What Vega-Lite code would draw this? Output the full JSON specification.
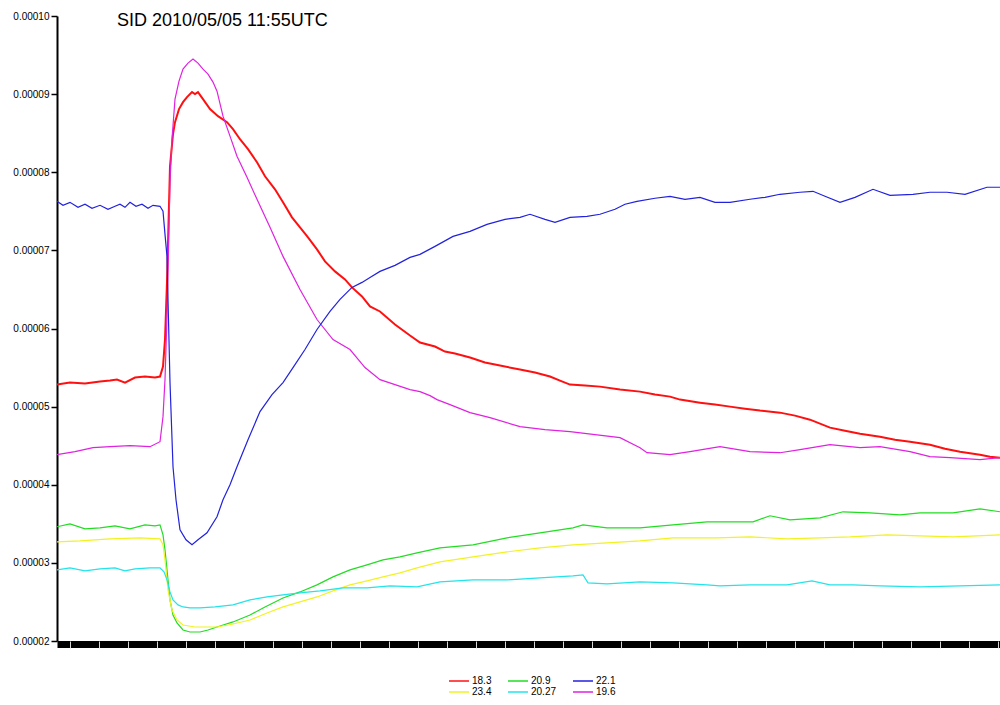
{
  "$schema": "https://vega.github.io/schema/vega-lite/v6.json",
  "autosize": {"type": "none"},
  "padding": {"left": 57, "top": 16, "right": 0, "bottom": 64},
  "width": 943,
  "height": 625,
  "background": "white",
  "title": {"text": "SID 2010/05/05 11:55UTC", "anchor": "start", "frame": "group", "dx": 60, "offset": -19, "font": "Liberation Sans", "fontSize": 18, "fontWeight": "normal", "color": "black"},
  "config": {"view": {"stroke": null}},
  "data": {"values": [
    {"s":"18.3","t":0,"v":0.00005282},{"s":"18.3","t":13,"v":0.00005308},{"s":"18.3","t":28,"v":0.00005295},{"s":"18.3","t":43,"v":0.00005321},{"s":"18.3","t":53,"v":0.00005333},{"s":"18.3","t":60,"v":0.00005346},{"s":"18.3","t":68,"v":0.00005308},{"s":"18.3","t":78,"v":0.00005372},{"s":"18.3","t":88,"v":0.00005385},{"s":"18.3","t":98,"v":0.00005372},{"s":"18.3","t":103,"v":0.00005385},{"s":"18.3","t":106,"v":0.00005513},{"s":"18.3","t":108,"v":0.00005859},{"s":"18.3","t":110,"v":0.0000659},{"s":"18.3","t":113,"v":0.00008077},{"s":"18.3","t":116,"v":0.00008487},{"s":"18.3","t":118,"v":0.00008641},{"s":"18.3","t":122,"v":0.00008808},{"s":"18.3","t":126,"v":0.00008897},{"s":"18.3","t":130,"v":0.00008962},{"s":"18.3","t":135,"v":0.00009026},{"s":"18.3","t":138,"v":0.00009},{"s":"18.3","t":141,"v":0.00009026},{"s":"18.3","t":146,"v":0.00008936},{"s":"18.3","t":153,"v":0.00008808},{"s":"18.3","t":161,"v":0.00008718},{"s":"18.3","t":170,"v":0.00008641},{"s":"18.3","t":176,"v":0.00008551},{"s":"18.3","t":183,"v":0.00008423},{"s":"18.3","t":191,"v":0.00008295},{"s":"18.3","t":200,"v":0.00008128},{"s":"18.3","t":208,"v":0.00007949},{"s":"18.3","t":218,"v":0.00007782},{"s":"18.3","t":226,"v":0.00007615},{"s":"18.3","t":235,"v":0.00007423},{"s":"18.3","t":243,"v":0.00007295},{"s":"18.3","t":251,"v":0.00007167},{"s":"18.3","t":260,"v":0.00007013},{"s":"18.3","t":268,"v":0.00006859},{"s":"18.3","t":278,"v":0.00006731},{"s":"18.3","t":288,"v":0.00006628},{"s":"18.3","t":295,"v":0.00006526},{"s":"18.3","t":305,"v":0.0000641},{"s":"18.3","t":313,"v":0.00006282},{"s":"18.3","t":323,"v":0.00006218},{"s":"18.3","t":338,"v":0.00006051},{"s":"18.3","t":353,"v":0.0000591},{"s":"18.3","t":363,"v":0.00005821},{"s":"18.3","t":378,"v":0.00005769},{"s":"18.3","t":388,"v":0.00005705},{"s":"18.3","t":398,"v":0.00005679},{"s":"18.3","t":413,"v":0.00005628},{"s":"18.3","t":428,"v":0.00005564},{"s":"18.3","t":443,"v":0.00005526},{"s":"18.3","t":463,"v":0.00005474},{"s":"18.3","t":478,"v":0.00005436},{"s":"18.3","t":493,"v":0.00005385},{"s":"18.3","t":503,"v":0.00005333},{"s":"18.3","t":513,"v":0.00005282},{"s":"18.3","t":528,"v":0.00005269},{"s":"18.3","t":543,"v":0.00005256},{"s":"18.3","t":563,"v":0.00005218},{"s":"18.3","t":583,"v":0.00005192},{"s":"18.3","t":598,"v":0.00005154},{"s":"18.3","t":613,"v":0.00005128},{"s":"18.3","t":623,"v":0.0000509},{"s":"18.3","t":643,"v":0.00005051},{"s":"18.3","t":658,"v":0.00005026},{"s":"18.3","t":673,"v":0.00005},{"s":"18.3","t":688,"v":0.00004974},{"s":"18.3","t":703,"v":0.00004949},{"s":"18.3","t":723,"v":0.00004923},{"s":"18.3","t":738,"v":0.00004885},{"s":"18.3","t":753,"v":0.00004833},{"s":"18.3","t":773,"v":0.00004731},{"s":"18.3","t":788,"v":0.00004692},{"s":"18.3","t":803,"v":0.00004654},{"s":"18.3","t":823,"v":0.00004615},{"s":"18.3","t":838,"v":0.00004577},{"s":"18.3","t":853,"v":0.00004551},{"s":"18.3","t":873,"v":0.00004513},{"s":"18.3","t":888,"v":0.00004462},{"s":"18.3","t":903,"v":0.00004423},{"s":"18.3","t":923,"v":0.00004385},{"s":"18.3","t":933,"v":0.00004359},{"s":"18.3","t":943,"v":0.00004346},

    {"s":"19.6","t":0,"v":0.00004385},{"s":"19.6","t":18,"v":0.00004423},{"s":"19.6","t":36,"v":0.00004474},{"s":"19.6","t":53,"v":0.00004487},{"s":"19.6","t":73,"v":0.000045},{"s":"19.6","t":93,"v":0.00004487},{"s":"19.6","t":103,"v":0.00004551},{"s":"19.6","t":106,"v":0.00004872},{"s":"19.6","t":108,"v":0.00005346},{"s":"19.6","t":110,"v":0.00006154},{"s":"19.6","t":113,"v":0.00007872},{"s":"19.6","t":115,"v":0.00008423},{"s":"19.6","t":118,"v":0.00008936},{"s":"19.6","t":122,"v":0.00009167},{"s":"19.6","t":126,"v":0.00009321},{"s":"19.6","t":131,"v":0.00009397},{"s":"19.6","t":136,"v":0.00009449},{"s":"19.6","t":141,"v":0.00009397},{"s":"19.6","t":146,"v":0.00009321},{"s":"19.6","t":151,"v":0.00009256},{"s":"19.6","t":156,"v":0.00009154},{"s":"19.6","t":160,"v":0.00009038},{"s":"19.6","t":166,"v":0.00008718},{"s":"19.6","t":173,"v":0.00008462},{"s":"19.6","t":180,"v":0.00008205},{"s":"19.6","t":190,"v":0.00007936},{"s":"19.6","t":200,"v":0.00007654},{"s":"19.6","t":213,"v":0.00007295},{"s":"19.6","t":226,"v":0.00006923},{"s":"19.6","t":243,"v":0.000065},{"s":"19.6","t":260,"v":0.00006115},{"s":"19.6","t":276,"v":0.00005859},{"s":"19.6","t":293,"v":0.00005731},{"s":"19.6","t":308,"v":0.000055},{"s":"19.6","t":323,"v":0.00005346},{"s":"19.6","t":338,"v":0.00005282},{"s":"19.6","t":353,"v":0.00005218},{"s":"19.6","t":363,"v":0.00005192},{"s":"19.6","t":373,"v":0.00005141},{"s":"19.6","t":380,"v":0.0000509},{"s":"19.6","t":393,"v":0.00005026},{"s":"19.6","t":413,"v":0.00004923},{"s":"19.6","t":433,"v":0.00004859},{"s":"19.6","t":463,"v":0.00004744},{"s":"19.6","t":488,"v":0.00004705},{"s":"19.6","t":513,"v":0.00004679},{"s":"19.6","t":538,"v":0.00004641},{"s":"19.6","t":563,"v":0.00004603},{"s":"19.6","t":583,"v":0.00004474},{"s":"19.6","t":590,"v":0.0000441},{"s":"19.6","t":613,"v":0.00004385},{"s":"19.6","t":633,"v":0.00004423},{"s":"19.6","t":663,"v":0.00004487},{"s":"19.6","t":693,"v":0.00004423},{"s":"19.6","t":723,"v":0.0000441},{"s":"19.6","t":743,"v":0.00004449},{"s":"19.6","t":773,"v":0.00004513},{"s":"19.6","t":803,"v":0.00004474},{"s":"19.6","t":823,"v":0.00004487},{"s":"19.6","t":853,"v":0.00004423},{"s":"19.6","t":873,"v":0.00004359},{"s":"19.6","t":893,"v":0.00004346},{"s":"19.6","t":923,"v":0.00004321},{"s":"19.6","t":943,"v":0.00004346},

    {"s":"22.1","t":0,"v":0.00007628},{"s":"22.1","t":6,"v":0.00007577},{"s":"22.1","t":13,"v":0.00007615},{"s":"22.1","t":21,"v":0.00007551},{"s":"22.1","t":28,"v":0.0000759},{"s":"22.1","t":35,"v":0.00007538},{"s":"22.1","t":43,"v":0.00007577},{"s":"22.1","t":51,"v":0.00007526},{"s":"22.1","t":58,"v":0.00007564},{"s":"22.1","t":63,"v":0.0000759},{"s":"22.1","t":68,"v":0.00007551},{"s":"22.1","t":73,"v":0.00007615},{"s":"22.1","t":79,"v":0.00007564},{"s":"22.1","t":85,"v":0.0000759},{"s":"22.1","t":91,"v":0.00007538},{"s":"22.1","t":96,"v":0.00007577},{"s":"22.1","t":103,"v":0.00007564},{"s":"22.1","t":106,"v":0.000075},{"s":"22.1","t":108,"v":0.00007205},{"s":"22.1","t":110,"v":0.00006923},{"s":"22.1","t":111,"v":0.00006372},{"s":"22.1","t":113,"v":0.00005308},{"s":"22.1","t":116,"v":0.00004231},{"s":"22.1","t":119,"v":0.00003808},{"s":"22.1","t":123,"v":0.00003423},{"s":"22.1","t":129,"v":0.00003295},{"s":"22.1","t":135,"v":0.00003231},{"s":"22.1","t":141,"v":0.00003295},{"s":"22.1","t":150,"v":0.00003385},{"s":"22.1","t":160,"v":0.0000359},{"s":"22.1","t":166,"v":0.00003808},{"s":"22.1","t":173,"v":0.00004},{"s":"22.1","t":180,"v":0.00004231},{"s":"22.1","t":191,"v":0.00004577},{"s":"22.1","t":203,"v":0.00004936},{"s":"22.1","t":215,"v":0.00005154},{"s":"22.1","t":226,"v":0.00005308},{"s":"22.1","t":238,"v":0.00005538},{"s":"22.1","t":248,"v":0.00005731},{"s":"22.1","t":260,"v":0.00005987},{"s":"22.1","t":273,"v":0.00006218},{"s":"22.1","t":283,"v":0.00006372},{"s":"22.1","t":295,"v":0.00006526},{"s":"22.1","t":305,"v":0.0000659},{"s":"22.1","t":313,"v":0.00006654},{"s":"22.1","t":323,"v":0.00006731},{"s":"22.1","t":338,"v":0.00006808},{"s":"22.1","t":353,"v":0.0000691},{"s":"22.1","t":363,"v":0.00006949},{"s":"22.1","t":378,"v":0.00007051},{"s":"22.1","t":396,"v":0.00007179},{"s":"22.1","t":413,"v":0.00007244},{"s":"22.1","t":430,"v":0.00007333},{"s":"22.1","t":448,"v":0.00007397},{"s":"22.1","t":463,"v":0.00007423},{"s":"22.1","t":473,"v":0.00007462},{"s":"22.1","t":488,"v":0.00007397},{"s":"22.1","t":498,"v":0.00007359},{"s":"22.1","t":513,"v":0.00007423},{"s":"22.1","t":530,"v":0.00007436},{"s":"22.1","t":543,"v":0.00007462},{"s":"22.1","t":558,"v":0.00007526},{"s":"22.1","t":568,"v":0.0000759},{"s":"22.1","t":580,"v":0.00007628},{"s":"22.1","t":598,"v":0.00007667},{"s":"22.1","t":613,"v":0.00007692},{"s":"22.1","t":628,"v":0.00007654},{"s":"22.1","t":643,"v":0.00007679},{"s":"22.1","t":658,"v":0.00007615},{"s":"22.1","t":673,"v":0.00007615},{"s":"22.1","t":693,"v":0.00007654},{"s":"22.1","t":708,"v":0.00007679},{"s":"22.1","t":723,"v":0.00007718},{"s":"22.1","t":743,"v":0.00007744},{"s":"22.1","t":756,"v":0.00007756},{"s":"22.1","t":768,"v":0.00007692},{"s":"22.1","t":783,"v":0.00007615},{"s":"22.1","t":798,"v":0.00007679},{"s":"22.1","t":816,"v":0.00007782},{"s":"22.1","t":833,"v":0.00007705},{"s":"22.1","t":856,"v":0.00007718},{"s":"22.1","t":873,"v":0.00007744},{"s":"22.1","t":890,"v":0.00007744},{"s":"22.1","t":908,"v":0.00007718},{"s":"22.1","t":930,"v":0.00007808},{"s":"22.1","t":943,"v":0.00007808},

    {"s":"20.9","t":0,"v":0.00003462},{"s":"20.9","t":13,"v":0.000035},{"s":"20.9","t":28,"v":0.00003436},{"s":"20.9","t":43,"v":0.00003449},{"s":"20.9","t":58,"v":0.00003474},{"s":"20.9","t":73,"v":0.00003436},{"s":"20.9","t":88,"v":0.00003487},{"s":"20.9","t":98,"v":0.00003474},{"s":"20.9","t":103,"v":0.00003487},{"s":"20.9","t":106,"v":0.00003359},{"s":"20.9","t":108,"v":0.00003167},{"s":"20.9","t":111,"v":0.00002782},{"s":"20.9","t":113,"v":0.00002526},{"s":"20.9","t":116,"v":0.00002333},{"s":"20.9","t":120,"v":0.00002231},{"s":"20.9","t":126,"v":0.00002141},{"s":"20.9","t":133,"v":0.00002115},{"s":"20.9","t":143,"v":0.00002115},{"s":"20.9","t":151,"v":0.00002141},{"s":"20.9","t":160,"v":0.00002179},{"s":"20.9","t":176,"v":0.00002244},{"s":"20.9","t":193,"v":0.00002333},{"s":"20.9","t":208,"v":0.00002436},{"s":"20.9","t":226,"v":0.00002551},{"s":"20.9","t":243,"v":0.00002628},{"s":"20.9","t":260,"v":0.00002718},{"s":"20.9","t":276,"v":0.00002821},{"s":"20.9","t":293,"v":0.0000291},{"s":"20.9","t":310,"v":0.00002974},{"s":"20.9","t":326,"v":0.00003038},{"s":"20.9","t":343,"v":0.00003077},{"s":"20.9","t":360,"v":0.00003128},{"s":"20.9","t":383,"v":0.00003192},{"s":"20.9","t":416,"v":0.00003231},{"s":"20.9","t":450,"v":0.00003321},{"s":"20.9","t":483,"v":0.00003385},{"s":"20.9","t":516,"v":0.00003449},{"s":"20.9","t":526,"v":0.00003487},{"s":"20.9","t":550,"v":0.00003449},{"s":"20.9","t":583,"v":0.00003449},{"s":"20.9","t":616,"v":0.00003487},{"s":"20.9","t":650,"v":0.00003526},{"s":"20.9","t":663,"v":0.00003526},{"s":"20.9","t":696,"v":0.00003526},{"s":"20.9","t":713,"v":0.00003603},{"s":"20.9","t":733,"v":0.00003551},{"s":"20.9","t":763,"v":0.00003577},{"s":"20.9","t":786,"v":0.00003654},{"s":"20.9","t":813,"v":0.00003641},{"s":"20.9","t":843,"v":0.00003615},{"s":"20.9","t":863,"v":0.00003641},{"s":"20.9","t":896,"v":0.00003641},{"s":"20.9","t":923,"v":0.00003692},{"s":"20.9","t":943,"v":0.00003654},

    {"s":"23.4","t":0,"v":0.00003269},{"s":"23.4","t":23,"v":0.00003282},{"s":"23.4","t":53,"v":0.00003308},{"s":"23.4","t":83,"v":0.00003321},{"s":"23.4","t":103,"v":0.00003308},{"s":"23.4","t":106,"v":0.00003231},{"s":"23.4","t":108,"v":0.00003038},{"s":"23.4","t":111,"v":0.00002654},{"s":"23.4","t":115,"v":0.00002397},{"s":"23.4","t":120,"v":0.00002269},{"s":"23.4","t":126,"v":0.00002205},{"s":"23.4","t":138,"v":0.00002179},{"s":"23.4","t":160,"v":0.00002179},{"s":"23.4","t":176,"v":0.00002218},{"s":"23.4","t":193,"v":0.00002269},{"s":"23.4","t":210,"v":0.00002359},{"s":"23.4","t":226,"v":0.00002436},{"s":"23.4","t":243,"v":0.000025},{"s":"23.4","t":260,"v":0.00002564},{"s":"23.4","t":276,"v":0.00002641},{"s":"23.4","t":293,"v":0.00002718},{"s":"23.4","t":310,"v":0.00002769},{"s":"23.4","t":326,"v":0.00002821},{"s":"23.4","t":343,"v":0.00002872},{"s":"23.4","t":360,"v":0.00002936},{"s":"23.4","t":383,"v":0.00003013},{"s":"23.4","t":416,"v":0.00003077},{"s":"23.4","t":450,"v":0.00003141},{"s":"23.4","t":483,"v":0.00003192},{"s":"23.4","t":516,"v":0.00003231},{"s":"23.4","t":550,"v":0.00003256},{"s":"23.4","t":583,"v":0.00003282},{"s":"23.4","t":616,"v":0.00003321},{"s":"23.4","t":660,"v":0.00003321},{"s":"23.4","t":693,"v":0.00003333},{"s":"23.4","t":730,"v":0.00003308},{"s":"23.4","t":763,"v":0.00003321},{"s":"23.4","t":793,"v":0.00003333},{"s":"23.4","t":830,"v":0.00003359},{"s":"23.4","t":863,"v":0.00003346},{"s":"23.4","t":896,"v":0.00003333},{"s":"23.4","t":943,"v":0.00003359},

    {"s":"20.27","t":0,"v":0.0000291},{"s":"20.27","t":13,"v":0.00002936},{"s":"20.27","t":28,"v":0.00002897},{"s":"20.27","t":43,"v":0.00002923},{"s":"20.27","t":58,"v":0.00002936},{"s":"20.27","t":68,"v":0.00002897},{"s":"20.27","t":78,"v":0.00002923},{"s":"20.27","t":93,"v":0.00002936},{"s":"20.27","t":103,"v":0.00002936},{"s":"20.27","t":107,"v":0.00002885},{"s":"20.27","t":110,"v":0.00002782},{"s":"20.27","t":113,"v":0.00002628},{"s":"20.27","t":116,"v":0.00002526},{"s":"20.27","t":121,"v":0.00002462},{"s":"20.27","t":126,"v":0.00002436},{"s":"20.27","t":133,"v":0.00002423},{"s":"20.27","t":143,"v":0.00002423},{"s":"20.27","t":158,"v":0.00002436},{"s":"20.27","t":176,"v":0.00002462},{"s":"20.27","t":193,"v":0.00002526},{"s":"20.27","t":210,"v":0.00002564},{"s":"20.27","t":226,"v":0.0000259},{"s":"20.27","t":243,"v":0.00002615},{"s":"20.27","t":263,"v":0.00002641},{"s":"20.27","t":286,"v":0.00002679},{"s":"20.27","t":310,"v":0.00002679},{"s":"20.27","t":333,"v":0.00002705},{"s":"20.27","t":360,"v":0.00002692},{"s":"20.27","t":383,"v":0.00002756},{"s":"20.27","t":416,"v":0.00002782},{"s":"20.27","t":450,"v":0.00002782},{"s":"20.27","t":483,"v":0.00002808},{"s":"20.27","t":516,"v":0.00002833},{"s":"20.27","t":526,"v":0.00002846},{"s":"20.27","t":531,"v":0.00002744},{"s":"20.27","t":550,"v":0.00002731},{"s":"20.27","t":583,"v":0.00002756},{"s":"20.27","t":616,"v":0.00002744},{"s":"20.27","t":650,"v":0.00002718},{"s":"20.27","t":663,"v":0.00002705},{"s":"20.27","t":693,"v":0.00002718},{"s":"20.27","t":730,"v":0.00002718},{"s":"20.27","t":755,"v":0.00002769},{"s":"20.27","t":773,"v":0.00002718},{"s":"20.27","t":796,"v":0.00002718},{"s":"20.27","t":823,"v":0.00002705},{"s":"20.27","t":863,"v":0.00002692},{"s":"20.27","t":903,"v":0.00002705},{"s":"20.27","t":943,"v":0.00002718}
  ]},
  "encoding": {
    "y": {"field": "v", "type": "quantitative", "scale": {"domain": [0.00002, 0.0001], "nice": false, "zero": false},
      "axis": {"title": null, "values": [0.00002,0.00003,0.00004,0.00005,0.00006,0.00007,0.00008,0.00009,0.0001], "format": ".5f", "labelFont": "Liberation Sans", "labelFontSize": 10, "labelColor": "black", "domainColor": "black", "domainWidth": 2, "tickColor": "black", "tickSize": 6, "tickWidth": 1.5, "labelPadding": 2, "grid": false}},
    "color": {"field": "s", "type": "nominal", "sort": ["18.3","20.9","22.1","23.4","20.27","19.6"],
      "scale": {"domain": ["18.3","20.9","22.1","23.4","20.27","19.6"], "range": ["#ff1010","#22dd22","#2222dd","#f2f222","#22e4ea","#e022e0"]},
      "legend": {"title": null, "orient": "none", "legendX": 396, "legendY": 659, "padding": 0, "direction": "horizontal", "columns": 3, "symbolType": "M-2,0H2", "symbolSize": 100, "symbolStrokeWidth": 1.5, "labelFont": "Liberation Sans", "labelFontSize": 10, "labelColor": "black", "labelOffset": 7, "rowPadding": 0, "columnPadding": 13}},
    "strokeWidth": {"condition": {"test": "datum.s === '18.3'", "value": 2}, "value": 1.2},
    "order": {"field": "t", "type": "quantitative"}
  },
  "layer": [
    {
      "transform": [{"filter": "datum.s === '19.6' || datum.s === '22.1' || datum.s === '18.3'"}],
      "mark": {"type": "line", "clip": true},
      "encoding": {
        "x": {"field": "t", "type": "quantitative", "scale": {"domain": [0, 943], "nice": false, "zero": false},
          "axis": {"orient": "bottom", "title": null, "labels": false, "ticks": false, "grid": false, "domainColor": "black", "domainWidth": 7, "offset": 3}}
      }
    },
    {
      "transform": [{"filter": "datum.s === '20.9' || datum.s === '23.4' || datum.s === '20.27'"}],
      "mark": {"type": "line", "clip": true},
      "encoding": {
        "x": {"field": "t", "type": "quantitative", "scale": {"domain": [0, 943], "nice": false, "zero": false},
          "axis": {"orient": "bottom", "title": null, "labels": false, "domain": false, "grid": false, "offset": 0, "values": [13,42,71,100,129,158,187,216,245,274,303,332,361,390,419,448,477,506,535,564,593,622,651,680,709,738,767,796,825,854,883,912,941], "tickColor": "#d8d8d8", "tickWidth": 1, "tickSize": 7}}
      }
    }
  ],
  "resolve": {"axis": {"x": "independent"}}
}
